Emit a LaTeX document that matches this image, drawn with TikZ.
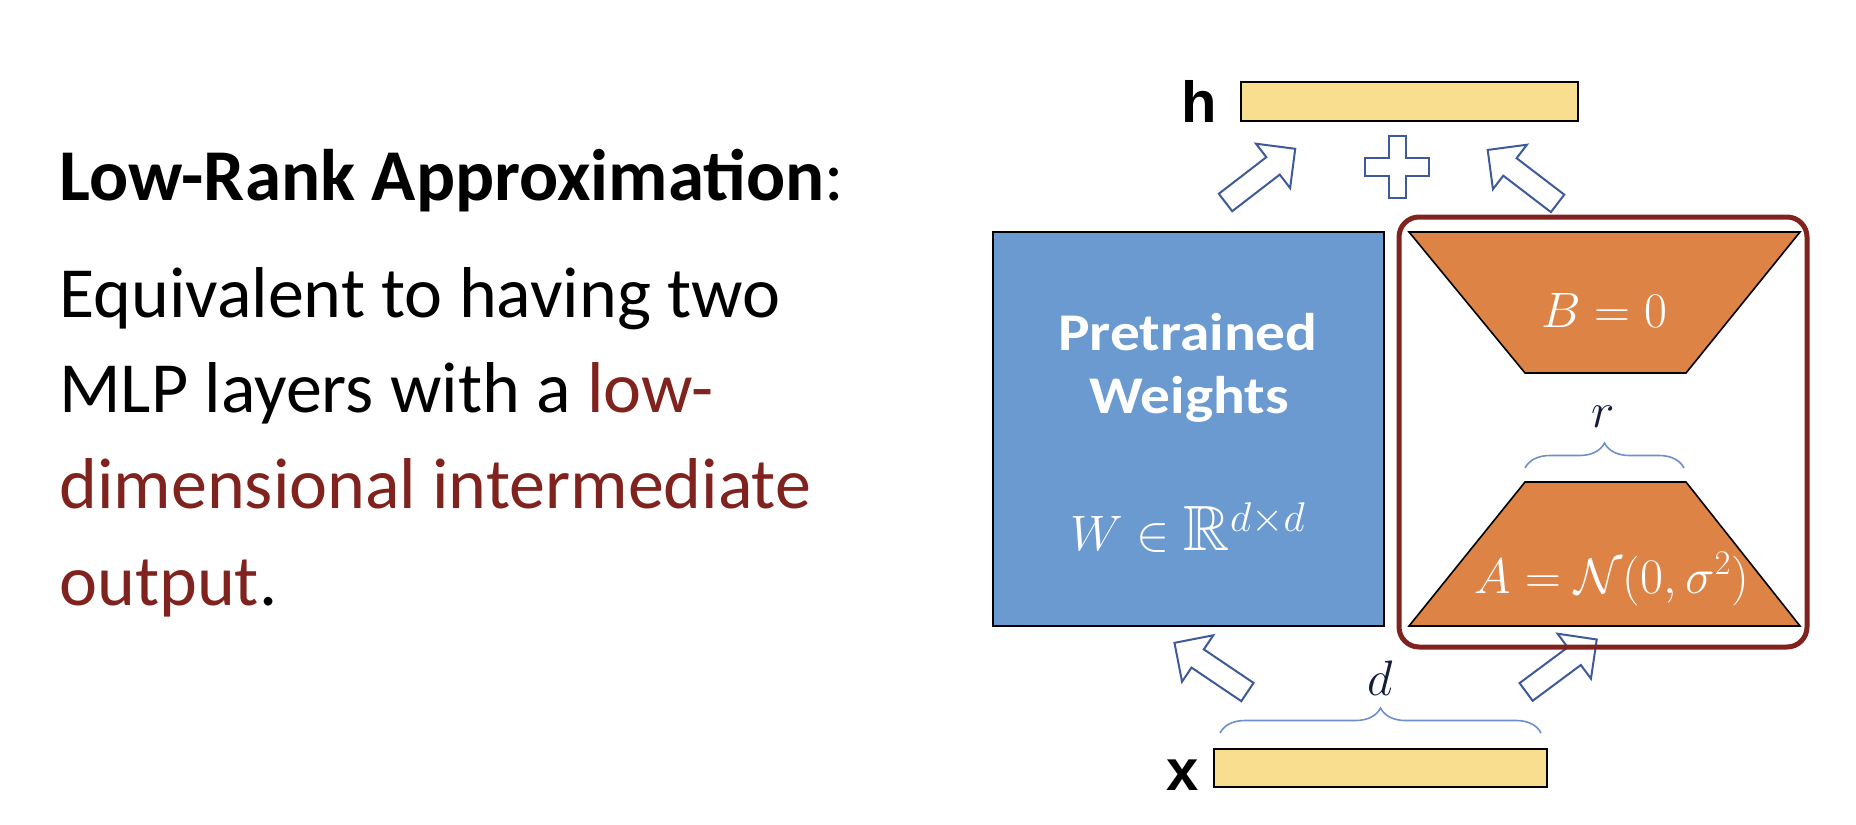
\documentclass[tikz,border=0pt]{standalone}
\usepackage[no-math]{fontspec}
\usepackage{amssymb}
\setmainfont{Carlito}
\newfontfamily\labelfont{Liberation Sans}
\newfontfamily\boxfont[FakeStretch=1.12]{Carlito}
\usetikzlibrary{shapes.arrows,decorations.pathreplacing}

\definecolor{lowred}{RGB}{128,34,30}
\definecolor{barfill}{RGB}{249,222,143}
\definecolor{wblue}{RGB}{106,154,207}
\definecolor{lorange}{RGB}{221,131,70}
\definecolor{arrowblue}{RGB}{62,90,155}
\definecolor{bracecol}{RGB}{110,142,204}
\definecolor{dimtext}{RGB}{20,30,60}

\tikzset{
  textline/.style={anchor=base west,inner sep=0pt,font=\fontsize{36}{40}\selectfont},
  vecbar/.style={draw=black,line width=0.8pt,fill=barfill,inner sep=0pt},
  veclabel/.style={anchor=base,inner sep=0pt,font=\labelfont\bfseries\fontsize{29}{32}\selectfont},
  hollow/.style={shape=single arrow,draw=arrowblue,fill=white,line width=1pt,inner sep=5pt,
    minimum height=44pt,single arrow head extend=8.5pt},
  dimbrace/.style={decorate,decoration={brace,amplitude=12.5pt},draw=bracecol,line width=0.8pt},
  trap/.style={draw=black,line width=0.8pt,fill=lorange},
  boxtext/.style={anchor=base,inner sep=0pt,text=white},
}

\begin{document}
\begin{tikzpicture}[x=0.5pt,y=-0.5pt]

\useasboundingbox (0,0) rectangle (1856,824);

% Left text
\node[textline,font=\fontsize{36.5}{40}\selectfont] (t0) at (59,200) {\textbf{Low-Rank Approximation}:};
\node[textline] (t1) at (59,317) {Equivalent to having two};
\node[textline] (t2) at (59,412) {MLP layers with a \textcolor{lowred}{low-}};
\node[textline,text=lowred] (t3) at (59,508) {dimensional intermediate};
\node[textline] (t4) at (59,605) {\textcolor{lowred}{output}.};

% Input and output vectors
\node[vecbar,minimum width=168.5pt,minimum height=19.5pt] (h) at (1409.5,101.5) {};
\node[veclabel] (hlab) at (1199,123) {h};
\node[vecbar,minimum width=166.5pt,minimum height=19pt] (x) at (1380.5,768) {};
\node[veclabel] (xlab) at (1183,790) {x};

% Pretrained weights
\node[draw=black,line width=0.8pt,fill=wblue,minimum width=195.5pt,minimum height=197pt,inner sep=0pt] (W) at (1188.5,429) {};
\node[boxtext,font=\boxfont\bfseries\fontsize{26.5}{30}\selectfont] (pre) at (1188,350) {Pretrained};
\node[boxtext,font=\boxfont\bfseries\fontsize{26.5}{30}\selectfont] (wgt) at (1189,413) {Weights};
\node[boxtext,font=\fontsize{32}{34}\selectfont] (wmath) at (1188,550) {$W\in\mathbb{R}^{d\times d}$};

% Hollow arrows
\node[hollow,rotate=37.6] (a1) at (1256,179) {};
\node[hollow,rotate=142.6] (a2) at (1527,180) {};
\node[hollow,rotate=146] (a3) at (1215.5,670.5) {};
\node[hollow,rotate=36.6] (a4) at (1557,669) {};

% Plus sign
\draw[arrowblue,line width=1pt,fill=white,shift={(1397,167)}]
  (-8.5,-31) -- (8.5,-31) -- (8.5,-9) -- (32,-9) -- (32,9) -- (8.5,9) -- (8.5,31)
  -- (-8.5,31) -- (-8.5,9) -- (-32,9) -- (-32,-9) -- (-8.5,-9) -- cycle;

% Low-rank factors
\draw[trap] (1409,232) -- (1800,232) -- (1686,373) -- (1525,373) -- cycle;
\draw[trap] (1525,482) -- (1686,482) -- (1800,626) -- (1409,626) -- cycle;
\node[boxtext,font=\fontsize{24}{26}\selectfont] (B) at (1604,327) {$B=0$};
\node[boxtext,font=\fontsize{24}{26}\selectfont] (A) at (1612,593) {$A=\mathcal{N}(0,\sigma^2)$};
\draw[lowred,line width=2.5pt,rounded corners=10pt] (1399,217) rectangle (1807,647);

% Dimensions
\draw[dimbrace] (1525,468) -- (1684,468);
\node[anchor=base,inner sep=0pt,text=dimtext,font=\fontsize{24}{26}\selectfont] (r) at (1603,427) {$r$};
\draw[dimbrace] (1220,733) -- (1541,733);
\node[anchor=base,inner sep=0pt,text=dimtext,font=\fontsize{24}{26}\selectfont] (d) at (1380,695) {$d$};

\end{tikzpicture}
\end{document}
